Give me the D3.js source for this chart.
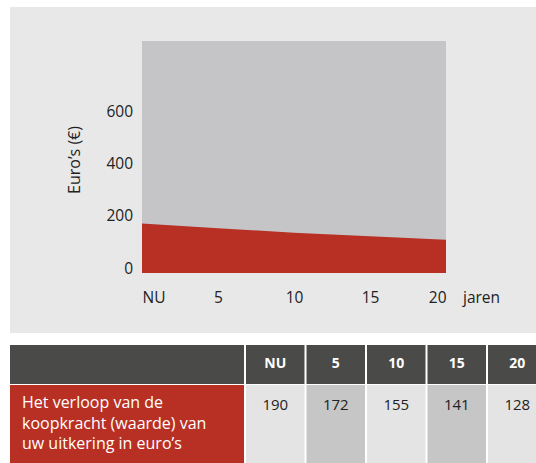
<!DOCTYPE html>
<html>
<head>
<meta charset="utf-8">
<script src="https://cdn.jsdelivr.net/npm/d3@7"></script>
<style>
  body { margin: 0; background: #fff; }
  text { font-family: "Open Sans", sans-serif; }
</style>
</head>
<body>
<svg id="chart"></svg>
<script>
// data
var yearLabels = ["NU", "5", "10", "15", "20"];
var years = [0, 5, 10, 15, 20];
var koopkracht = [190, 172, 155, 141, 128];
var yTicks = [0, 200, 400, 600];
var rowLabel = ["Het verloop van de", "koopkracht (waarde) van", "uw uitkering in euro’s"];

var width = 536;
var height = 463;

var svg = d3.select("#chart")
            .attr("width", width)
            .attr("height", height);

/* grey panel behind the chart */
svg.append("rect")
   .attr("x", 10)
   .attr("y", 7)
   .attr("width", width - 10)
   .attr("height", 326)
   .attr("fill", "#e8e8e8");

var x = d3.scaleLinear().domain([0, 20]).range([142, 446]);
var y = d3.scaleLinear().domain([0, 892]).range([273, 41]);

svg.append("rect")
   .attr("x", x(0))
   .attr("y", y(892))
   .attr("width", x(20) - x(0))
   .attr("height", y(0) - y(892))
   .attr("fill", "#c5c5c7");

var area = d3.area()
             .x(function(d, i) { return x(years[i]); })
             .y0(y(0))
             .y1(function(d) { return y(d); });

svg.append("path")
   .datum(koopkracht)
   .attr("d", area)
   .attr("fill", "#b83024");

/* y axis, only labels */
var yAxis = d3.axisLeft(y).tickValues(yTicks).tickSize(0).tickPadding(9);
var gy = svg.append("g")
            .attr("transform", "translate(" + x(0) + ",0)")
            .call(yAxis);
gy.select(".domain").remove();
gy.selectAll("text")
  .attr("dy", "0")
  .attr("font-size", 15.5)
  .attr("font-family", "Open Sans")
  .attr("fill", "#222");

svg.append("text")
   .attr("transform", "translate(80,160) rotate(-90)")
   .attr("text-anchor", "middle")
   .attr("font-size", 16)
   .attr("fill", "#222")
   .text("Euro’s (€)");

/* x axis, only labels */
var xAxis = d3.axisBottom(x)
              .tickValues(years)
              .tickSize(0)
              .tickFormat(function(d, i) { return yearLabels[i]; });
var gx = svg.append("g")
            .attr("transform", "translate(0,303)")
            .call(xAxis);
gx.select(".domain").remove();
gx.selectAll("text")
  .attr("y", 0)
  .attr("dy", "0")
  .attr("font-size", 15.5)
  .attr("font-family", "Open Sans")
  .attr("fill", "#222")
  .attr("text-anchor", function(d, i)
  {
    if (i == 0) return "start";
    if (i == years.length - 1) return "end";
    return "middle";
  });

svg.append("text")
   .attr("x", 463)
   .attr("y", 303)
   .attr("font-size", 15.5)
   .attr("fill", "#222")
   .text("jaren");

/* table */
var col = d3.scaleBand().domain(yearLabels).range([245, 245 + 5 * 60.5]);

svg.append("rect")
   .attr("x", 10)
   .attr("y", 345)
   .attr("width", 234)
   .attr("height", 39)
   .attr("fill", "#4a4a48");

svg.append("rect")
   .attr("x", 10)
   .attr("y", 385)
   .attr("width", 234)
   .attr("height", height - 385)
   .attr("fill", "#b83024");

svg.selectAll(".head")
   .data(yearLabels)
   .enter()
   .append("rect")
   .attr("class", "head")
   .attr("x", function(d) { return col(d) + 1; })
   .attr("y", 345)
   .attr("width", col.bandwidth() - 2)
   .attr("height", 39)
   .attr("fill", "#4a4a48");

svg.selectAll(".headtext")
   .data(yearLabels)
   .enter()
   .append("text")
   .attr("class", "headtext")
   .attr("x", function(d) { return col(d) + col.bandwidth() / 2; })
   .attr("y", 368)
   .attr("text-anchor", "middle")
   .attr("font-size", 14)
   .attr("font-weight", "bold")
   .attr("fill", "#fff")
   .text(function(d) { return d; });

svg.selectAll(".cell")
   .data(koopkracht)
   .enter()
   .append("rect")
   .attr("class", "cell")
   .attr("x", function(d, i) { return col(yearLabels[i]) + 1; })
   .attr("y", 385)
   .attr("width", col.bandwidth() - 2)
   .attr("height", height - 385)
   .attr("fill", function(d, i) { return i % 2 == 0 ? "#e4e4e4" : "#c6c6c6"; });

svg.selectAll(".celltext")
   .data(koopkracht)
   .enter()
   .append("text")
   .attr("class", "celltext")
   .attr("x", function(d, i) { return col(yearLabels[i]) + col.bandwidth() / 2; })
   .attr("y", 410)
   .attr("text-anchor", "middle")
   .attr("font-size", 15)
   .attr("fill", "#222")
   .text(function(d) { return d; });

svg.selectAll(".rowlabel")
   .data(rowLabel)
   .enter()
   .append("text")
   .attr("class", "rowlabel")
   .attr("x", 22)
   .attr("y", function(d, i) { return 408 + i * 20.5; })
   .attr("font-size", 16)
   .attr("fill", "#fff")
   .text(function(d) { return d; });
</script>
</body>
</html>
